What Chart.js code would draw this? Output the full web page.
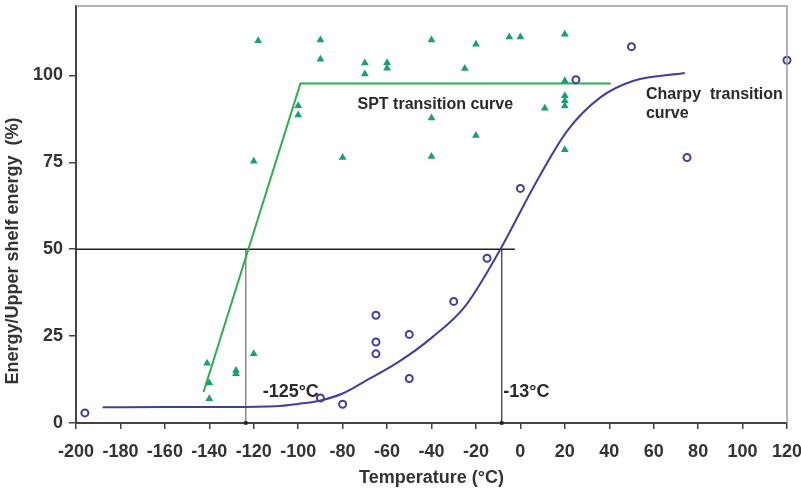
<!DOCTYPE html>
<html>
<head>
<meta charset="utf-8">
<script src="https://cdn.jsdelivr.net/npm/chart.js@4.4.0/dist/chart.umd.min.js"></script>
<style>
  html, body { margin: 0; padding: 0; background: #fff; }
  #wrap { width: 801px; height: 491px; }
</style>
</head>
<body>
<div id="wrap"><canvas id="chart"></canvas></div>
<script>
// SPT test points (triangles)
const sptTemp = [-118, -120, -100, -100, -90, -90, -80, -70, -70, -60, -60, -40, -40, -40, -20, -20, -25, -5, 0, 11, 20, 20, 20, 20, 20, 20, -141, -140, -140, -128, -128, -120];
const sptEnergy = [110, 75.3, 91.3, 88.6, 110.2, 104.7, 76.4, 103.6, 100.4, 103.7, 102.1, 110.2, 87.8, 76.7, 109, 82.7, 102, 111.1, 111.1, 90.6, 111.9, 98.5, 94.2, 92.7, 91.2, 78.6, 17.2, 11.5, 7, 15.1, 14.2, 19.9];

// Charpy test points (circles)
const charpyTemp = [-196, -90, -80, -65, -65, -65, -50, -50, -30, -15, 0, 25, 50, 75, 120];
const charpyEnergy = [2.9, 7.2, 5.4, 31, 23.3, 19.9, 25.5, 12.8, 35, 47.4, 67.5, 98.8, 108.3, 76.4, 104.4];

// fitted transition curves
const sptCurveTemp = [-142.6, -99, 40.7];
const sptCurveEnergy = [8.9, 97.7, 97.7];
const charpyCurveTemp = [-188, -160, -130, -110, -100, -90, -80, -70, -55, -40, -25, -9, 6, 21, 36, 51, 74];
const charpyCurveEnergy = [4.5, 4.6, 4.6, 4.8, 5.5, 6.5, 8.5, 12, 17.5, 24.5, 33.5, 50, 68, 84, 93.7, 98.5, 100.7];

// 50% reference lines
const halfLevel = 50;
const sptT50 = -123.6;
const charpyT50 = -8.4;

const xTicks = [-200, -180, -160, -140, -120, -100, -80, -60, -40, -20, 0, 20, 40, 60, 80, 100, 120];
const yTicks = [0, 25, 50, 75, 100];

const pts = (xs, ys) => xs.map((x, i) => ({ x: x, y: ys[i] }));

const GREEN_PT = "#19a070";
const GREEN_LN = "#2bb04e";
const BLUE = "#40409c";
const FONT = "'Liberation Sans', Arial, sans-serif";

const labelsPlugin = {
  id: "labels",
  afterDatasetsDraw(chart) {
    const { ctx, scales: { x, y }, chartArea } = chart;
    ctx.save();
    // top/right frame
    ctx.strokeStyle = "#9a9a9a";
    ctx.lineWidth = 1.5;
    ctx.beginPath();
    ctx.moveTo(chartArea.left, chartArea.top);
    ctx.lineTo(chartArea.right, chartArea.top);
    ctx.lineTo(chartArea.right, chartArea.bottom);
    ctx.stroke();

    ctx.fillStyle = "#2a2a2a";
    ctx.textBaseline = "middle";
    ctx.textAlign = "left";
    ctx.font = "bold 16px " + FONT;
    ctx.fillText("SPT transition curve", x.getPixelForValue(-73.3), y.getPixelForValue(91.6));
    ctx.fillText("Charpy  transition", x.getPixelForValue(56.5), y.getPixelForValue(94.4));
    ctx.fillText("curve", x.getPixelForValue(56.5), y.getPixelForValue(88.9));
    ctx.font = "bold 18px " + FONT;
    ctx.fillText("-125\u00B0C", x.getPixelForValue(-116), y.getPixelForValue(8.9));
    ctx.fillText("-13\u00B0C", x.getPixelForValue(-7.7), y.getPixelForValue(8.9));

    // y axis title
    ctx.fillStyle = "#333";
    ctx.font = "bold 18px " + FONT;
    ctx.textAlign = "center";
    ctx.translate(13, 251);
    ctx.rotate(-Math.PI / 2);
    ctx.fillText("Energy/Upper shelf energy  (%)", 0, 0);
    ctx.restore();
  }
};

new Chart(document.getElementById("chart"), {
  type: "scatter",
  data: {
    datasets: [
      {
        label: "50% level",
        type: "line",
        data: pts([-200, -2.5], [halfLevel, halfLevel]),
        borderColor: "#222",
        borderWidth: 1.5,
        pointRadius: 0,
        order: 5
      },
      {
        label: "SPT T50",
        type: "line",
        data: pts([sptT50, sptT50], [halfLevel, 0]),
        borderColor: "#8a8a8a",
        borderWidth: 1.5,
        pointStyle: "rect",
        pointRadius: [0, 2.5],
        pointBackgroundColor: "#222",
        pointBorderWidth: 0,
        order: 5
      },
      {
        label: "Charpy T50",
        type: "line",
        data: pts([charpyT50, charpyT50], [halfLevel, 0]),
        borderColor: "#555",
        borderWidth: 1.5,
        pointStyle: "rect",
        pointRadius: [0, 2.5],
        pointBackgroundColor: "#222",
        pointBorderWidth: 0,
        order: 5
      },
      {
        label: "SPT transition curve",
        type: "line",
        data: pts(sptCurveTemp, sptCurveEnergy),
        borderColor: GREEN_LN,
        borderWidth: 2,
        pointRadius: 0,
        order: 3
      },
      {
        label: "Charpy transition curve",
        type: "line",
        data: pts(charpyCurveTemp, charpyCurveEnergy),
        borderColor: BLUE,
        borderWidth: 2,
        pointRadius: 0,
        cubicInterpolationMode: "monotone",
        order: 3
      },
      {
        label: "SPT",
        data: pts(sptTemp, sptEnergy),
        pointStyle: "triangle",
        pointRadius: 4.5,
        backgroundColor: GREEN_PT,
        borderColor: GREEN_PT,
        borderWidth: 0,
        order: 1
      },
      {
        label: "Charpy",
        data: pts(charpyTemp, charpyEnergy),
        pointStyle: "circle",
        pointRadius: 3.5,
        backgroundColor: "rgba(0,0,0,0)",
        borderColor: BLUE,
        borderWidth: 2,
        order: 1
      }
    ]
  },
  options: {
    responsive: true,
    maintainAspectRatio: false,
    animation: false,
    clip: false,
    layout: { padding: { left: 0, right: 14, top: 3, bottom: 0 } },
    plugins: {
      legend: { display: false },
      tooltip: { enabled: false }
    },
    scales: {
      x: {
        type: "linear",
        min: -200,
        max: 120,
        afterBuildTicks: s => { s.ticks = xTicks.map(v => ({ value: v })); },
        afterFit: s => { s.height = 68; s.paddingLeft = 0; s.paddingRight = 0; },
        border: { color: "#444", width: 2 },
        grid: { drawOnChartArea: false, drawTicks: true, tickLength: 6, color: "#444", lineWidth: 1.5 },
        ticks: { autoSkip: false, maxRotation: 0, color: "#333", padding: 12, font: { family: FONT, size: 18, weight: "bold" } },
        title: { display: true, text: "Temperature (\u00B0C)", color: "#333", padding: { top: 0, bottom: 2 }, font: { family: FONT, size: 18, weight: "bold" } }
      },
      y: {
        type: "linear",
        min: 0,
        max: 120,
        afterBuildTicks: s => { s.ticks = yTicks.map(v => ({ value: v })); },
        afterFit: s => { s.width = 76; s.paddingTop = 0; s.paddingBottom = 0; },
        border: { color: "#444", width: 2 },
        grid: { drawOnChartArea: false, drawTicks: true, tickLength: 7, color: "#444", lineWidth: 1.5 },
        ticks: { color: "#333", padding: 6, font: { family: FONT, size: 18, weight: "bold" } }
      }
    }
  },
  plugins: [labelsPlugin]
});
</script>
</body>
</html>
